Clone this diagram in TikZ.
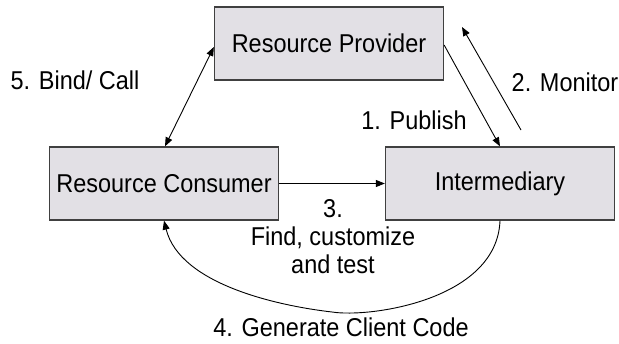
\documentclass[tikz,border=0pt]{standalone}
\usepackage{fontspec}
\setmainfont{Liberation Sans}[FakeStretch=0.91]
\usetikzlibrary{arrows.meta}
\definecolor{boxfill}{RGB}{226,224,229}
\definecolor{boxline}{RGB}{64,64,64}
\begin{document}
\begin{tikzpicture}[x=1pt,y=-1pt,
  box/.style={draw=boxline,line width=1.3pt,fill=boxfill,minimum width=229pt,minimum height=73pt,inner sep=0pt,font=\fontsize{25.8}{28}\selectfont},
  conn/.style={line width=0.9pt,-{Triangle[length=9pt,width=7pt]}},
  lbl/.style={inner sep=0pt,font=\fontsize{25.8}{28}\selectfont,align=center}]
\useasboundingbox (0,0) rectangle (619,343);
\fill[white] (0,0) rectangle (619,343);
\node[box] (prov) at (329,43.5) {Resource Provider};
\node[box] (cons) at (164,183.5) {Resource Consumer};
\node[box] (inter) at (500,183.5) {Intermediary};
\coordinate (monA) at (521,130);
\coordinate (monB) at (462,27);
\coordinate (curveLow) at (332,312);
% 5 Bind/Call
\draw[line width=0.9pt,{Triangle[length=9pt,width=7pt]}-{Triangle[length=9pt,width=7pt]}] (cons.north) ++(1,0) coordinate (bcA) -- (prov.west |- 0,47) coordinate (bcB);
% 1 Publish
\draw[conn] (prov.east |- 0,45) -- (inter.north);
% 2 Monitor
\draw[conn] (monA) -- (monB);
% 3
\draw[conn] (cons.east) -- (inter.west);
% 4
\draw[conn] (inter.south) .. controls (497,300) and (370,318) .. (curveLow)
  .. controls (280,306) and (180,285) .. (cons.south);
\node[lbl] (l5) at (75,80) {5. Bind/ Call};
\node[lbl] (l2) at (565,82) {2. Monitor};
\node[lbl] (l1) at (414,120) {1. Publish};
\node[lbl] (l3) at (333,237) {3.\\Find, customize\\and test};
\node[lbl] (l4) at (341,327) {4. Generate Client Code};
\end{tikzpicture}
\end{document}
